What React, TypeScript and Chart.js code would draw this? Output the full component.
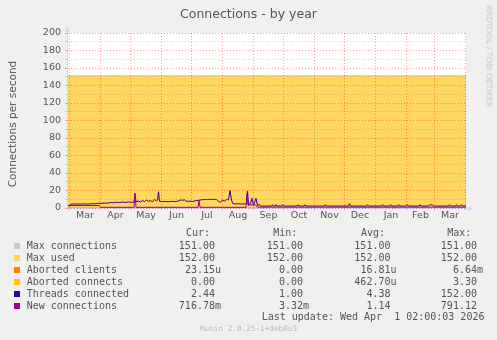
import React, { useEffect, useRef } from "react";
import { Chart, registerables } from "chart.js";

Chart.register(...registerables);

const W = 497;
const H = 340;

// x axis: days counted from 1 Mar 2025
const xMin = -2.5;
const xMax = 396.5;
const monthStartDays = [0, 31, 61, 92, 122, 153, 184, 214, 245, 275, 306, 337, 365, 396];
const monthLabels = ["Mar", "Apr", "May", "Jun", "Jul", "Aug", "Sep", "Oct", "Nov", "Dec", "Jan", "Feb", "Mar"];

const yMin = 0;
const yMax = 200;
const yMinorStep = 10;
const yMajorStep = 20;

const maxConnDays = [-2.5, 396.5];
const maxConnValues = [151, 151];

const maxUsedDays = [-2.5, 396.5];
const maxUsedValues = [152, 152];

const abortedClientsDays = [-2.5, 396.5];
const abortedClientsValues = [0, 0];

const abortedConnectsDays = [-2.5, 396.5];
const abortedConnectsValues = [0, 0];

const threadsDays = [
  -2.5, 0.5, 1.5, 5, 8, 11, 14, 17, 20, 23, 26, 29, 32, 35, 38, 41, 44, 47, 50, 53, 56, 59, 62, 64.5, 65.5, 66.5,
  69, 71, 73, 75, 77, 79, 81, 83, 85, 87, 88, 89, 90, 93, 96, 99, 102, 105, 108, 111, 113, 115, 117, 120, 123,
  126, 129, 132, 135, 138, 141, 144, 147, 149, 151, 153, 155, 157, 159, 160.5, 162, 163.5, 166, 169, 172, 175,
  177, 178, 179, 181, 182.5, 184, 186.5, 188, 190, 191,
  202, 203, 204, 205.5, 206.5, 207.5, 212, 213, 214, 227.5, 228.5, 229.5, 234.5, 235.5, 236.5, 255, 256, 257,
  279, 280, 281, 297, 298, 299, 312, 313, 314, 320, 321, 322, 328, 329, 330, 337, 338, 339, 349.5, 350.5, 351.5,
  359, 360, 363, 364, 379, 380, 381, 386, 387, 388, 391, 392, 393, 396.5,
];
const threadsValues = [
  2.6, 2.6, 4.5, 4.5, 4.6, 4.4, 4.7, 4.5, 4.6, 5.0, 4.8, 5.4, 5.3, 5.7, 5.5, 6.3, 6.0, 6.6, 6.2, 6.8, 6.3, 6.9, 6.4, 6.8, 16.0, 7.2,
  7.8, 6.9, 8.6, 7.3, 9.2, 7.6, 8.4, 7.1, 9.8, 8.2, 9.0, 18.5, 7.8, 7.3, 7.5, 7.2, 7.6, 7.4, 7.6, 9.2, 8.8, 9.4, 7.6, 7.8, 7.5,
  8.2, 8.8, 9.4, 9.8, 9.6, 10.0, 9.7, 9.9, 7.4, 6.8, 8.9, 8.0, 9.8, 9.4, 20.0, 9.0, 4.8, 4.6, 4.9, 4.5, 4.7,
  5.0, 19.5, 4.0, 5.2, 11.0, 3.0, 11.0, 2.6, 4.0, 2.2,
  2.2, 3.8, 2.2, 2.2, 3.8, 2.2, 2.2, 3.8, 2.2, 2.2, 3.8, 2.2, 2.2, 3.8, 2.2, 2.2, 3.8, 2.2,
  2.2, 5.0, 2.2, 2.2, 3.8, 2.2, 2.2, 3.8, 2.2, 2.2, 3.8, 2.2, 2.2, 3.8, 2.2, 2.2, 3.8, 2.2, 2.2, 3.8, 2.2,
  2.2, 3.6, 3.6, 2.2, 2.2, 3.8, 2.2, 2.2, 3.8, 2.2, 2.2, 3.8, 2.2, 2.4,
];

const newConnDays = [-2.5, 30, 31, 64.5, 65.5, 66.5, 128.5, 129.5, 130.5, 176.5, 177.5, 178.5, 180, 183, 186, 188, 396.5];
const newConnValues = [2.8, 2.8, 0.8, 0.8, 17.0, 0.8, 0.8, 8.7, 0.8, 0.8, 16.0, 3.0, 3.5, 3.8, 3.2, 1.0, 1.0];

// legend table
const legendNames = ["Max connections", "Max used", "Aborted clients", "Aborted connects", "Threads connected", "New connections"];
const legendColors = ["#CCCCBB", "#FFD660", "#FF8000", "#FFCC00", "#330099", "#990099"];
const curValues = ["151.00 ", "152.00 ", "23.15u", "0.00 ", "2.44 ", "716.78m"];
const minValues = ["151.00 ", "152.00 ", "0.00 ", "0.00 ", "1.00 ", "3.32m"];
const avgValues = ["151.00 ", "152.00 ", "16.81u", "462.70u", "4.38 ", "1.14 "];
const maxValues = ["151.00 ", "152.00 ", "6.64m", "3.30 ", "152.00 ", "791.12 "];
const columnHeaders = ["Cur:", "Min:", "Avg:", "Max:"];

const AXIS = "#CFD6F8";
const MAJOR = "rgba(255,0,0,0.38)";
const MINOR = "rgba(128,128,128,0.35)";
const FONT_COLOR = "#555555";

const pts = (xs: number[], ys: number[]) => xs.map((x, i) => ({ x, y: ys[i] }));

export default function App() {
  const ref = useRef<HTMLCanvasElement | null>(null);

  useEffect(() => {
    const canvas = ref.current;
    if (!canvas) return;
    Chart.defaults.font.family = "'DejaVu Sans', sans-serif";

    const starts = new Set(monthStartDays);
    const mids = monthLabels.map((_, i) => (monthStartDays[i] + monthStartDays[i + 1]) / 2);
    const labelMap = new Map<number, string>(mids.map((m, i) => [m, monthLabels[i]]));
    const xTicks = [...monthStartDays, ...mids].sort((a, b) => a - b);
    const yTicks: number[] = [];
    for (let v = yMin; v <= yMax; v += yMinorStep) yTicks.push(v);

    const frame = {
      id: "frame",
      beforeDraw(c: any) {
        const { ctx, chartArea: a } = c;
        ctx.save();
        ctx.fillStyle = "#FFFFFF";
        ctx.fillRect(a.left, a.top, a.right - a.left, a.bottom - a.top);
        ctx.restore();
      },
      afterDraw(c: any) {
        const { ctx, chartArea: a } = c;
        ctx.save();
        ctx.fillStyle = AXIS;
        ctx.strokeStyle = AXIS;
        ctx.lineWidth = 1;
        const x = Math.round(a.left) + 0.5;
        const y = Math.round(a.bottom) + 0.5;
        ctx.beginPath();
        ctx.moveTo(x, a.top);
        ctx.lineTo(x, a.top - 3);
        ctx.stroke();
        ctx.beginPath();
        ctx.moveTo(x, a.top - 6.5);
        ctx.lineTo(x - 2.5, a.top - 1.5);
        ctx.lineTo(x + 2.5, a.top - 1.5);
        ctx.closePath();
        ctx.fill();
        ctx.beginPath();
        ctx.moveTo(a.right, y);
        ctx.lineTo(a.right + 3, y);
        ctx.stroke();
        ctx.beginPath();
        ctx.moveTo(a.right + 7.5, y);
        ctx.lineTo(a.right + 2, y - 2.5);
        ctx.lineTo(a.right + 2, y + 2.5);
        ctx.closePath();
        ctx.fill();
        ctx.restore();
      },
    };

    const line = (label: string, xs: number[], ys: number[], color: string, order: number) => ({
      label,
      data: pts(xs, ys),
      borderColor: color,
      backgroundColor: color,
      borderWidth: 1,
      pointRadius: 0,
      fill: false,
      tension: 0,
      order,
    });

    const chart = new Chart(canvas, {
      type: "line",
      data: {
        datasets: [
          line(legendNames[0], maxConnDays, maxConnValues, legendColors[0], 6),
          {
            label: legendNames[1],
            data: pts(maxUsedDays, maxUsedValues),
            borderColor: legendColors[1],
            backgroundColor: legendColors[1],
            borderWidth: 0,
            pointRadius: 0,
            fill: "origin",
            tension: 0,
            order: 5,
          },
          line(legendNames[2], abortedClientsDays, abortedClientsValues, legendColors[2], 4),
          line(legendNames[3], abortedConnectsDays, abortedConnectsValues, legendColors[3], 3),
          line(legendNames[4], threadsDays, threadsValues, legendColors[4], 2),
          line(legendNames[5], newConnDays, newConnValues, legendColors[5], 1),
        ] as any,
      },
      options: {
        animation: false,
        responsive: false,
        maintainAspectRatio: false,
        devicePixelRatio: 1,
        layout: { padding: { left: 0, right: 31, top: 33, bottom: 112 } },
        plugins: {
          legend: { display: false },
          tooltip: { enabled: false },
          title: { display: false },
        },
        scales: {
          x: {
            type: "linear",
            min: xMin,
            max: xMax,
            afterBuildTicks: (s: any) => {
              s.ticks = xTicks.map((v) => ({ value: v }));
            },
            afterFit: (s: any) => {
              s.height = 20;
            },
            ticks: {
              autoSkip: false,
              maxRotation: 0,
              minRotation: 0,
              padding: 0,
              color: FONT_COLOR,
              font: { size: 9.5 },
              callback: (v: any) => labelMap.get(Number(v)) ?? "",
            },
            grid: {
              z: 1,
              lineWidth: 1,
              tickLength: 2,
              color: (ctx: any) => (ctx.tick && starts.has(ctx.tick.value) ? MAJOR : "rgba(0,0,0,0)"),
              tickColor: (ctx: any) => (ctx.tick && starts.has(ctx.tick.value) ? MAJOR : "rgba(0,0,0,0)"),
            },
            border: { display: true, color: AXIS, width: 1, z: 1, dash: [1, 2] },
          },
          y: {
            type: "linear",
            min: yMin,
            max: yMax,
            afterBuildTicks: (s: any) => {
              s.ticks = yTicks.map((v) => ({ value: v }));
            },
            afterFit: (s: any) => {
              s.width = 67;
            },
            ticks: {
              autoSkip: false,
              padding: 4,
              color: FONT_COLOR,
              font: { size: 9.5 },
              callback: (v: any) => (Number(v) % yMajorStep === 0 ? String(v) : ""),
            },
            grid: {
              z: 1,
              lineWidth: 1,
              tickLength: 2,
              color: (ctx: any) => (ctx.tick && ctx.tick.value % yMajorStep === 0 ? MAJOR : MINOR),
              tickColor: (ctx: any) => (ctx.tick && ctx.tick.value % yMajorStep === 0 ? MAJOR : MINOR),
            },
            border: { display: true, color: AXIS, width: 1, z: 1, dash: [1, 2] },
          },
        },
      } as any,
      plugins: [frame],
    });
    return () => chart.destroy();
  }, []);

  const mono: React.CSSProperties = {
    position: "absolute",
    fontFamily: "'DejaVu Sans Mono', monospace",
    fontSize: 10,
    lineHeight: "12px",
    color: FONT_COLOR,
    whiteSpace: "pre",
  };
  const rowY = (i: number) => 245.7 + 12 * i;
  const headerLeft = [186, 273.3, 361, 447.3];
  const colRight = [221, 309, 396.5, 483];
  const cols = [curValues, minValues, avgValues, maxValues];

  return (
    <div
      style={{
        position: "absolute",
        left: 0,
        top: 0,
        width: W,
        height: H,
        background: "#F0F0F0",
        overflow: "hidden",
        fontFamily: "'DejaVu Sans', sans-serif",
      }}
    >
      <canvas ref={ref} width={W} height={H} style={{ position: "absolute", left: 0, top: 0, width: W, height: H }} />
      <div
        style={{
          position: "absolute",
          left: 0,
          top: 6,
          width: W,
          textAlign: "center",
          fontSize: 12.5,
          lineHeight: "15px",
          color: "#555555",
          whiteSpace: "pre",
        }}
      >
        Connections - by year
      </div>
      <div
        style={{
          position: "absolute",
          left: 12 - 100,
          top: 124 - 7,
          width: 200,
          height: 14,
          lineHeight: "14px",
          textAlign: "center",
          fontSize: 10.5,
          color: FONT_COLOR,
          transform: "rotate(-90deg)",
          transformOrigin: "center",
          whiteSpace: "pre",
        }}
      >
        Connections per second
      </div>
      <div
        style={{
          position: "absolute",
          left: 488.5 - 60,
          top: 65.7 - 4.5,
          width: 120,
          height: 9,
          lineHeight: "9px",
          textAlign: "left",
          fontSize: 7.9,
          color: "#C4C4C4",
          transform: "rotate(90deg)",
          transformOrigin: "center",
          whiteSpace: "pre",
        }}
      >
        RRDTOOL / TOBI OETIKER
      </div>
      {columnHeaders.map((h, i) => (
        <div key={h} style={{ ...mono, left: headerLeft[i], top: 233.3 - 6 }}>
          {h}
        </div>
      ))}
      {legendNames.map((name, i) => (
        <React.Fragment key={name}>
          <div
            style={{
              position: "absolute",
              left: 14,
              top: rowY(i) - 3,
              width: 6,
              height: 6,
              background: legendColors[i],
            }}
          />
          <div style={{ ...mono, left: 26.7, top: rowY(i) - 6 }}>{name}</div>
          {cols.map((col, j) => (
            <div key={j} style={{ ...mono, right: W - colRight[j], top: rowY(i) - 6 }}>
              {col[i]}
            </div>
          ))}
        </React.Fragment>
      ))}
      <div style={{ ...mono, left: 261.7, top: 317.3 - 6 }}>Last update: Wed Apr  1 02:00:03 2026</div>
      <div
        style={{
          ...mono,
          left: 0,
          width: W,
          textAlign: "center",
          top: 329.3 - 5,
          fontSize: 7.7,
          lineHeight: "10px",
          color: "#BBBBBB",
        }}
      >
        Munin 2.0.25-1+deb8u3
      </div>
    </div>
  );
}
